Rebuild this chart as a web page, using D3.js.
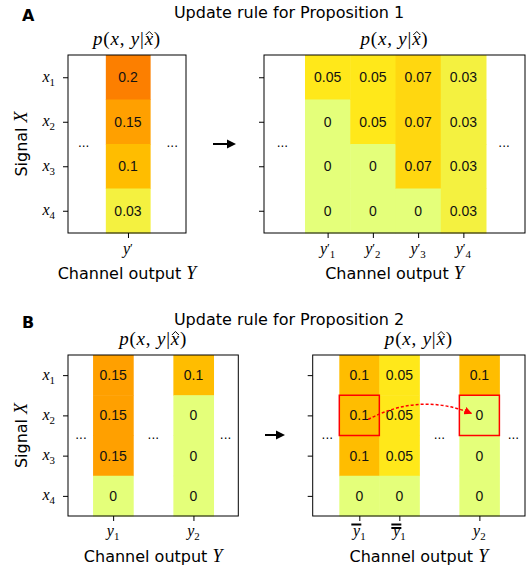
<!DOCTYPE html>
<html>
<head>
<meta charset="utf-8">
<script src="https://cdn.jsdelivr.net/npm/d3@7"></script>
<style>
  body { margin: 0; background: #fff; }
  svg { display: block; }
</style>
</head>
<body>
<div class="container"></div>
<script>
// ---- values ----
// rows are the signal values x1..x4 (subscripts)
const rowSubs = ["1", "2", "3", "4"];

// Proposition 1: a single output y' is split into y'1..y'4
const aLeftCats = [{ base: "y", prime: true }];
const aLeftValues = [[0.2, 0.15, 0.1, 0.03]];
const aRightCats = [
  { base: "y", prime: true, sub: "1" },
  { base: "y", prime: true, sub: "2" },
  { base: "y", prime: true, sub: "3" },
  { base: "y", prime: true, sub: "4" }
];
const aRightValues = [
  [0.05, 0, 0, 0],
  [0.05, 0.05, 0, 0],
  [0.07, 0.07, 0.07, 0],
  [0.03, 0.03, 0.03, 0.03]
];

// Proposition 2: null marks the elided outputs ("...") between columns
const bLeftCats = [{ base: "y", sub: "1" }, null, { base: "y", sub: "2" }];
const bLeftValues = [[0.15, 0.15, 0.15, 0], null, [0.1, 0, 0, 0]];
const bRightCats = [
  { base: "y", sub: "1", bars: 1 },
  { base: "y", sub: "1", bars: 2 },
  null,
  { base: "y", sub: "2" }
];
const bRightValues = [[0.1, 0.1, 0.1, 0], [0.05, 0.05, 0.05, 0], null, [0.1, 0, 0, 0]];
// mass moved in B: [column, row] from -> to
const bMoveFrom = [0, 1];
const bMoveTo = [3, 1];

const titles = ["Update rule for Proposition 1", "Update rule for Proposition 2"];
const letters = ["A", "B"];

// matplotlib "Wistia" colormap, vmin 0 / vmax 0.2
const color = d3.scaleLinear()
  .domain([0, 0.05, 0.1, 0.15, 0.2])
  .range(["#e4ff7a", "#ffe81a", "#ffbd00", "#ffa000", "#fc7f00"]);

const W = 529, H = 572;
const svg = d3.select(".container").append("svg")
  .attr("width", W).attr("height", H)
  .attr("viewBox", `0 0 ${W} ${H}`);

const SANS = "DejaVu Sans, sans-serif";
const NUM = "Liberation Sans, Arial, sans-serif";
const SERIF = "Liberation Serif, serif";

svg.append("defs").append("marker")
  .attr("id", "redhead")
  .attr("viewBox", "0 0 10 10").attr("refX", 9).attr("refY", 5)
  .attr("markerWidth", 8).attr("markerHeight", 8)
  .attr("markerUnits", "userSpaceOnUse")
  .attr("orient", "auto")
  .append("path").attr("d", "M0,0L10,5L0,10Z").attr("fill", "red");

// write a math label like y'_1 into a text element
function mathLabel(text, spec, size) {
  text.append("tspan").attr("font-family", SERIF).attr("font-style", "italic")
    .attr("font-size", size).text(spec.base);
  let up = 0;
  if (spec.prime) {
    up = -size * 0.15;
    text.append("tspan").attr("font-family", SERIF).attr("font-size", size * 0.8)
      .attr("dy", up).text("\u2032");
  }
  if (spec.sub) {
    text.append("tspan").attr("font-family", SERIF).attr("font-size", size * 0.68)
      .attr("dy", size * 0.25 - up).text(spec.sub);
  }
}

// one heatmap axis
function drawPanel(p) {
  const [left, right, top, bottom] = p.box;
  const x = d3.scaleLinear().domain(p.xlim).range([left, right]);
  const y = d3.scaleLinear().domain([-0.5, 3.5]).range([top, bottom]);
  const g = svg.append("g");

  const cells = [];
  p.values.forEach((col, ci) => {
    if (!col) return;
    col.forEach((v, ri) => cells.push({ ci, ri, v }));
  });

  g.selectAll("rect.cell").data(cells).join("rect")
    .attr("class", "cell")
    .attr("x", d => x(d.ci - 0.5))
    .attr("y", d => y(d.ri - 0.5))
    .attr("width", d => x(d.ci + 0.5) - x(d.ci - 0.5) + 0.5)
    .attr("height", d => y(d.ri + 0.5) - y(d.ri - 0.5) + 0.5)
    .attr("fill", d => color(d.v));

  g.selectAll("text.val").data(cells).join("text")
    .attr("class", "val")
    .attr("x", d => x(d.ci))
    .attr("y", d => y(d.ri) + 5)
    .attr("text-anchor", "middle")
    .attr("font-family", NUM).attr("font-size", 14).attr("fill", "#111")
    .text(d => d.v);

  // elided outputs
  g.selectAll("text.dots").data(p.dots).join("text")
    .attr("class", "dots")
    .attr("x", d => x(d)).attr("y", y(1.5) + 3)
    .attr("text-anchor", "middle")
    .attr("font-family", SANS).attr("font-size", 12).attr("fill", "#000")
    .text("...");

  // axes
  const colIdx = p.cats.map((c, i) => (c ? i : null)).filter(i => i !== null);
  g.append("g").attr("transform", `translate(0,${bottom})`)
    .call(d3.axisBottom(x).tickValues(colIdx).tickFormat("").tickSize(5).tickSizeOuter(0));
  g.append("g").attr("transform", `translate(${left},0)`)
    .call(d3.axisLeft(y).tickValues([0, 1, 2, 3]).tickFormat("").tickSize(5).tickSizeOuter(0));
  g.selectAll(".domain").remove();
  g.selectAll(".tick line").attr("stroke", "#000").attr("stroke-width", 1);

  g.append("rect")
    .attr("x", left).attr("y", top)
    .attr("width", right - left).attr("height", bottom - top)
    .attr("fill", "none").attr("stroke", "#000").attr("stroke-width", 1);

  // x tick labels
  colIdx.forEach(i => {
    const spec = p.cats[i];
    const t = g.append("text")
      .attr("x", x(i)).attr("y", bottom + p.xlabDy)
      .attr("text-anchor", "middle").attr("fill", "#000");
    mathLabel(t, spec, 16);
    for (let b = 0; b < (spec.bars || 0); b++) {
      g.append("line")
        .attr("x1", x(i) - 8).attr("x2", x(i) + 2)
        .attr("y1", bottom + 8.5 + b * 3.5).attr("y2", bottom + 8.5 + b * 3.5)
        .attr("stroke", "#000").attr("stroke-width", 2);
    }
  });

  // y tick labels
  if (p.ylabels) {
    rowSubs.forEach((s, i) => {
      const t = g.append("text")
        .attr("x", left - 13).attr("y", y(i) + 4.5)
        .attr("text-anchor", "end").attr("fill", "#000");
      mathLabel(t, { base: "x", sub: s }, 16);
    });
    const lab = g.append("text")
      .attr("transform", `translate(27,${(top + bottom) / 2}) rotate(-90)`)
      .attr("text-anchor", "middle").attr("font-family", SANS).attr("font-size", 16);
    lab.append("tspan").text("Signal ");
    lab.append("tspan").attr("font-family", SERIF).attr("font-style", "italic").attr("font-size", 18).text("X");
  }

  // p(x,y|x̂) title, with the hat drawn over the last x
  const pty = top - 10;
  const pt = g.append("text")
    .attr("x", (left + right) / 2).attr("y", pty)
    .attr("text-anchor", "middle").attr("font-family", SERIF).attr("font-size", 19)
    .attr("letter-spacing", 0.8);
  let hatted = null;
  [["p", 1], ["(", 0], ["x", 1], [", ", 0], ["y", 1], ["|", 0], ["x", 2], [")", 0]]
    .forEach(([s, it]) => {
      const ts = pt.append("tspan").attr("font-style", it ? "italic" : "normal").text(s);
      if (it === 2) hatted = ts;
    });
  const hb = hatted.node().getBBox();
  const hc = hb.x + hb.width / 2 + 0.5;
  g.append("path")
    .attr("d", `M${hc - 3.5},${pty - 10}L${hc},${pty - 13.5}L${hc + 3.5},${pty - 10}`)
    .attr("fill", "none").attr("stroke", "#000").attr("stroke-width", 1);

  // x axis label
  const xl = g.append("text")
    .attr("x", (left + right) / 2).attr("y", bottom + 46)
    .attr("text-anchor", "middle").attr("font-family", SANS).attr("font-size", 16);
  xl.append("tspan").text("Channel output ");
  xl.append("tspan").attr("font-family", SERIF).attr("font-style", "italic").attr("font-size", 18).text("Y");

  return { x, y, g };
}

const panels = [
  { cats: aLeftCats, values: aLeftValues, box: [68, 186, 55, 233], xlim: [-1.354, 1.31], dots: [-1, 1], ylabels: true, xlabDy: 21 },
  { cats: aRightCats, values: aRightValues, box: [264, 525, 55, 233], xlim: [-1.406, 4.362], dots: [-1, 3.9], ylabels: false, xlabDy: 21 },
  { cats: bLeftCats, values: bLeftValues, box: [68, 238.3, 355, 516], xlim: [-1.124, 3.117], dots: [-0.8, 1, 2.8], ylabels: true, xlabDy: 20 },
  { cats: bRightCats, values: bRightValues, box: [312.7, 525, 355, 516], xlim: [-1.165, 4.14], dots: [-0.8, 2, 3.85], ylabels: false, xlabDy: 20 }
];

const drawn = panels.map(drawPanel);

// titles and panel letters
[17.5, 325].forEach((ty, i) => {
  svg.append("text").attr("x", 289).attr("y", ty)
    .attr("text-anchor", "middle").attr("font-family", SANS).attr("font-size", 16)
    .text(titles[i]);
  svg.append("text").attr("x", 22).attr("y", ty + 3.5 + (i ? -0.5 : 0))
    .attr("font-family", SANS).attr("font-weight", "bold").attr("font-size", 16)
    .text(letters[i]);
});

// black arrows from the left axis to the right one
function blackArrow(x0, x1, yy) {
  svg.append("line").attr("x1", x0).attr("x2", x1 - 7).attr("y1", yy).attr("y2", yy)
    .attr("stroke", "#000").attr("stroke-width", 2);
  svg.append("path").attr("d", `M${x1},${yy}L${x1 - 9},${yy - 4.5}L${x1 - 9},${yy + 4.5}Z`).attr("fill", "#000");
}
blackArrow(213, 236, 144);
blackArrow(265, 285, 435);

// highlight of the moved cell in B (right)
const { x: bx, y: by, g: bg } = drawn[3];
[bMoveFrom, bMoveTo].forEach(([c, r]) => {
  bg.append("rect")
    .attr("x", bx(c - 0.5)).attr("y", by(r - 0.5))
    .attr("width", bx(c + 0.5) - bx(c - 0.5)).attr("height", by(r + 0.5) - by(r - 0.5))
    .attr("fill", "none").attr("stroke", "red").attr("stroke-width", 1.5);
});
const sx = bx(bMoveFrom[0] + 0.22), sy = by(bMoveFrom[1] + 0.1);
const ex = bx(bMoveTo[0] - 0.2), ey = by(bMoveTo[1] - 0.05);
bg.append("path")
  .attr("d", `M${sx},${sy}Q${(sx + ex) / 2},${sy - 27} ${ex},${ey}`)
  .attr("fill", "none").attr("stroke", "red").attr("stroke-width", 1.5)
  .attr("stroke-dasharray", "3,2")
  .attr("marker-end", "url(#redhead)");
</script>
</body>
</html>
